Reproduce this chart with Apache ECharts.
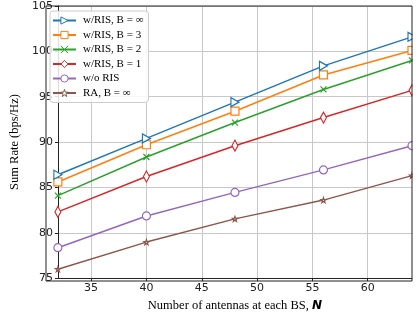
<!DOCTYPE html>
<html><head><meta charset="utf-8">
<script src="https://cdn.jsdelivr.net/npm/echarts@6/dist/echarts.min.js"></script>
<style>html,body{margin:0;padding:0;background:#fff}#c{width:416px;height:317px}</style>
</head><body><div id="c"></div>
<script>
const antennas = [32, 40, 48, 56, 64];
const risInf = [86.4, 90.4, 94.4, 98.4, 101.6];
const risB3 = [85.6, 89.7, 93.4, 97.4, 100.1];
const risB2 = [84.1, 88.35, 92.15, 95.8, 99.0];
const risB1 = [82.3, 86.2, 89.6, 92.7, 95.7];
const noRis = [78.35, 81.85, 84.45, 86.93, 89.6];
const raInf = [75.98, 78.97, 81.53, 83.6, 86.3];
const xTicks = [35, 40, 45, 50, 55, 60];
const seriesNames = ['w/RIS, B = ∞', 'w/RIS, B = 3', 'w/RIS, B = 2', 'w/RIS, B = 1', 'w/o RIS', 'RA, B = ∞'];

const triRight = 'path://M0,0 L10,5 L0,10 Z';
const xMark = 'path://M0,0 L10,10 M10,0 L0,10';
const star = 'path://M5,0 L6.2,3.6 L10,3.6 L6.9,5.9 L8.1,9.5 L5,7.3 L1.9,9.5 L3.1,5.9 L0,3.6 L3.8,3.6 Z';
const styles = [
  {c:'#1f77b4', s:triRight, sz:[8,9]},
  {c:'#ff7f0e', s:'rect', sz:8},
  {c:'#2ca02c', s:xMark, sz:6},
  {c:'#d62728', s:'diamond', sz:[6,11]},
  {c:'#9467bd', s:'circle', sz:8},
  {c:'#8c564b', s:star, sz:5}
];
const data = [risInf, risB3, risB2, risB1, noRis, raInf];

const chart = echarts.init(document.getElementById('c'), null, {renderer:'canvas'});
chart.setOption({
  animation:false,
  grid:{left:46, right:4, top:6, bottom:36, show:false},
  legend:{
    left:50, top:11, orient:'vertical', itemGap:3.5, itemWidth:23, itemHeight:9,
    backgroundColor:'rgba(255,255,255,0.85)', borderColor:'#ccc', borderWidth:1, borderRadius:3,
    padding:[4,5,4,2], z:200,
    textStyle:{fontFamily:'Liberation Serif', fontSize:11, color:'#000', padding:[0,0,0,2]},
    data:seriesNames.map((n,i)=>({name:n, itemStyle:{color:'#fff', borderColor:styles[i].c, borderWidth:1}}))
  },
  xAxis:{
    type:'value', min:32, max:64,
    name:'Number of antennas at each BS, {i|N}', nameLocation:'middle', nameGap:20,
    nameTextStyle:{fontFamily:'Liberation Serif', fontSize:12.5, color:'#000',
      rich:{i:{fontFamily:'DejaVu Sans', fontStyle:'italic', fontWeight:'bold', fontSize:12, color:'#000'}}},
    axisLine:{show:true, onZero:false, lineStyle:{color:'#222', width:1}},
    axisTick:{show:true, length:3, inside:false, customValues:xTicks, lineStyle:{color:'#222'}},
    axisLabel:{customValues:xTicks, fontFamily:'DejaVu Sans', fontSize:11, color:'#222', margin:5},
    splitLine:{show:true, lineStyle:{color:'#c8c8c8', width:1}}
  },
  yAxis:{
    type:'value', min:75, max:105, interval:5,
    name:'Sum Rate (bps/Hz)', nameLocation:'middle', nameGap:32,
    nameTextStyle:{fontFamily:'Liberation Serif', fontSize:12.5, color:'#000'},
    axisLine:{show:true, lineStyle:{color:'#222', width:1}},
    axisTick:{show:true, length:3, lineStyle:{color:'#222'}},
    axisLabel:{fontFamily:'DejaVu Sans', fontSize:11, color:'#222', margin:5},
    splitLine:{show:true, lineStyle:{color:'#c8c8c8', width:1}}
  },
  graphic:[
    {type:'rect', shape:{x:412.5, y:0, width:10, height:317}, style:{fill:'#fff'}, silent:true, z:100},
    {type:'rect', shape:{x:46, y:6, width:366, height:275}, style:{fill:'none', stroke:'#222', lineWidth:1}, silent:true, z:101}
  ],
  series: data.map((d,i)=>({
    name:seriesNames[i], type:'line',
    data: antennas.map((n,j)=>[n, d[j]]),
    symbol:styles[i].s, symbolSize:styles[i].sz, showAllSymbol:true,
    lineStyle:{color:styles[i].c, width:1.5},
    itemStyle:{color:'#fff', borderColor:styles[i].c, borderWidth:1.2},
    color:styles[i].c, clip:true, z:3+(6-i)
  }))
});
</script></body></html>
